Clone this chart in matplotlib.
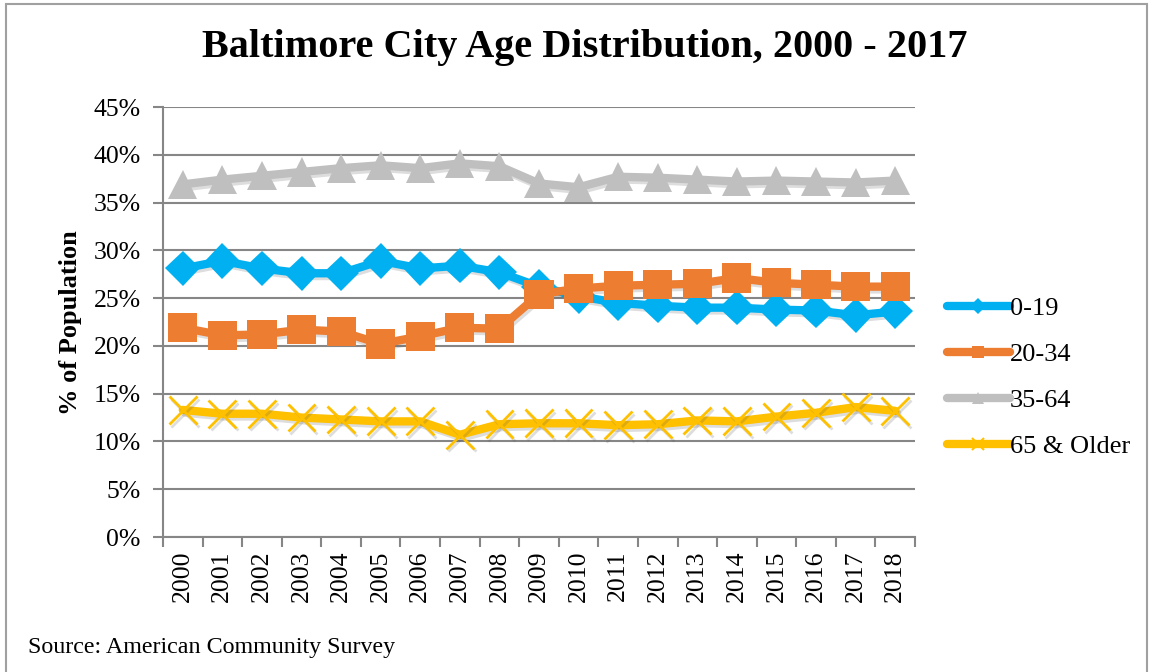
import matplotlib
matplotlib.use("Agg")
import matplotlib.pyplot as plt
import matplotlib.patheffects as pe
from matplotlib.lines import Line2D
from matplotlib.patches import Rectangle

plt.rcParams['font.family'] = ['Liberation Serif', 'DejaVu Serif']

years = [str(y) for y in range(2000, 2019)]
age_0_19 = [28.1, 28.9, 28.1, 27.6, 27.6, 28.9, 28.1, 28.4, 27.7, 26.2, 25.2, 24.5, 24.2, 24.0, 24.0, 23.8, 23.7, 23.2, 23.6]
age_20_34 = [21.9, 21.1, 21.2, 21.7, 21.5, 20.2, 21.0, 21.9, 21.8, 25.4, 26.0, 26.3, 26.4, 26.5, 27.1, 26.6, 26.4, 26.2, 26.2]
age_35_64 = [36.9, 37.4, 37.8, 38.2, 38.6, 38.9, 38.6, 39.1, 38.8, 37.0, 36.6, 37.7, 37.6, 37.4, 37.2, 37.3, 37.2, 37.1, 37.3]
age_65_up = [13.3, 12.9, 12.9, 12.5, 12.3, 12.1, 12.1, 10.7, 11.8, 11.9, 11.9, 11.7, 11.8, 12.2, 12.1, 12.6, 13.0, 13.6, 13.2]
labels = ['0-19', '20-34', '35-64', '65 & Older']
yticks = [0, 5, 10, 15, 20, 25, 30, 35, 40, 45]

W, H = 1150, 672
fig = plt.figure(figsize=(W / 100, H / 100), dpi=100)
ax = fig.add_axes([163 / W, 1 - 537 / H, (915 - 163) / W, (537 - 107) / H])

grid_c = '#868686'
x = list(range(len(years)))

series = [
    (age_0_19, '#00B0F0', 'D', 18),
    (age_20_34, '#ED7D31', 's', 21),
    (age_35_64, '#BFBFBF', '^', 21),
    (age_65_up, '#FFC000', 'x', 20),
]
shadow = [pe.SimpleLineShadow(offset=(1.5, -2), alpha=0.2, shadow_color='#555555'), pe.Normal()]
for vals, c, m, ms in series:
    kw = dict(color=c, lw=6, marker=m, markersize=ms, solid_capstyle='round',
              solid_joinstyle='round', zorder=3, path_effects=shadow)
    if m == 'x':
        kw.update(markeredgewidth=2.0, markeredgecolor=c)
    else:
        kw.update(markeredgewidth=0, markerfacecolor=c)
    ax.plot(x, vals, **kw)

ax.set_xlim(-0.5, len(years) - 0.5)
ax.set_ylim(0, 45)
ax.set_yticks(yticks)
ax.set_yticklabels([f'{v}%' for v in yticks], fontsize=18.5)
ax.yaxis.grid(True, color=grid_c, lw=1.5)
ax.set_axisbelow(True)

ax.set_xticks([i - 0.5 for i in range(len(years) + 1)])
ax.set_xticklabels([])
ax.set_xticks(x, minor=True)
ax.set_xticklabels(years, minor=True, rotation=90, fontsize=18.5)
ax.tick_params(axis='x', which='major', length=7, width=1.5, color=grid_c, direction='out')
ax.tick_params(axis='x', which='minor', length=0, pad=10)
ax.tick_params(axis='y', length=7, width=1.5, color=grid_c, pad=9)

for s in ['top', 'right']:
    ax.spines[s].set_visible(False)
for s in ['left', 'bottom']:
    ax.spines[s].set_color(grid_c)
    ax.spines[s].set_linewidth(1.5)

fig.text(585 / W, 1 - 47 / H, 'Baltimore City Age Distribution, 2000 - 2017',
         ha='center', va='center', fontsize=29, fontweight='bold')
fig.text(70 / W, 1 - 323 / H, '% of Population', rotation=90, ha='center', va='center',
         fontsize=19, fontweight='bold')
fig.text(28 / W, 1 - 648 / H, 'Source: American Community Survey', ha='left', va='center',
         fontsize=17.3)

handles = []
for vals, c, m, ms in series:
    if m == 'x':
        h = Line2D([], [], color=c, lw=6, marker=m, markersize=9, markeredgewidth=1.5,
                   solid_capstyle='round')
    else:
        h = Line2D([], [], color=c, lw=6, marker=m, markersize=8, markeredgewidth=0,
                   solid_capstyle='round')
    handles.append(h)
fig.legend(handles, labels, loc='upper left', bbox_to_anchor=(923 / W, 1 - 273 / H),
           frameon=False, fontsize=19, handlelength=2.4, handletextpad=0.0,
           labelspacing=0.85)

fig.patches.append(Rectangle((6 / W, -0.05), (1147 - 6) / W, 1.05 - 4 / H,
                             transform=fig.transFigure, fill=False, edgecolor='#A0A0A0', lw=1.5))

fig.savefig('out.png', dpi=100)
